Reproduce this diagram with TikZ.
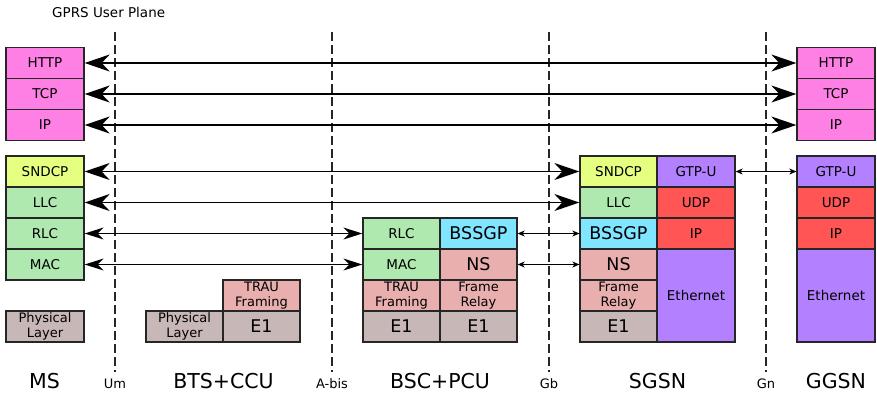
\documentclass[tikz,border=0pt]{standalone}
\usepackage{fontspec}
\setmainfont{DejaVu Sans}
\usetikzlibrary{arrows.meta}
\definecolor{cmag}{HTML}{FF80E5}
\definecolor{cyel}{HTML}{E5FF80}
\definecolor{cgrn}{HTML}{AFE9AF}
\definecolor{cgry}{HTML}{C8B7B7}
\definecolor{ctrau}{HTML}{E9AFAF}
\definecolor{ccyan}{HTML}{80E5FF}
\definecolor{cpur}{HTML}{B380FF}
\definecolor{cred}{HTML}{FF5555}
\tikzset{
  box/.style={draw=black!85, line width=1.3pt, minimum width=77pt, minimum height=31pt, inner sep=0pt, align=center, font=\fontsize{13.5}{15}\selectfont},
  wbox/.style={box, minimum width=78pt},
  bigtxt/.style={font=\fontsize{17.5}{19}\selectfont},
  twol/.style={font=\fontsize{13}{15}\selectfont},
  bigarrow/.style={line width=1.6pt, {Stealth[length=25pt,width=17pt,inset=8pt]}-{Stealth[length=25pt,width=17pt,inset=8pt]}},
  midarrow/.style={line width=1.3pt, {Stealth[length=19pt,width=12pt,inset=6pt]}-{Stealth[length=19pt,width=12pt,inset=6pt]}},
  smallarrow/.style={line width=0.9pt, {Stealth[length=7pt,width=6pt,inset=2pt]}-{Stealth[length=7pt,width=6pt,inset=2pt]}},
  dashline/.style={line width=1.6pt, black!85, dash pattern=on 9pt off 4pt},
  biglabel/.style={anchor=base, font=\fontsize{20.5}{22}\selectfont},
  smalllabel/.style={anchor=base, font=\fontsize{13}{15}\selectfont},
}
\begin{document}
\begin{tikzpicture}[x=1pt,y=-1pt]
\useasboundingbox (0,0) rectangle (877,392);
\fill[white] (0,0) rectangle (877,392);
% title
\node[anchor=base west, inner sep=0pt, font=\fontsize{13.5}{15}\selectfont] (title) at (52,17) {GPRS User Plane};
% dashed interface lines
\foreach \n/\x in {um/115, abis/332, gb/549, gn/766} {
  \coordinate (\n top) at (\x,32);
  \coordinate (\n bot) at (\x,372);
  \draw[dashline] (\n top) -- (\n bot);
}
% MS
\node[wbox, fill=cmag] (msHTTP) at (45,63) {HTTP};
\node[wbox, fill=cmag] (msTCP) at (45,94) {TCP};
\node[wbox, fill=cmag] (msIP) at (45,125) {IP};
\node[wbox, fill=cyel] (msSNDCP) at (45,171.5) {SNDCP};
\node[wbox, fill=cgrn] (msLLC) at (45,202.5) {LLC};
\node[wbox, fill=cgrn] (msRLC) at (45,233.5) {RLC};
\node[wbox, fill=cgrn] (msMAC) at (45,264.5) {MAC};
\node[wbox, fill=cgry, twol] (msPHY) at (45,326.5) {Physical\\Layer};
% BTS
\node[box, fill=cgry, twol] (btsPHY) at (184.5,326.5) {Physical\\Layer};
\node[box, fill=ctrau, twol] (btsTRAU) at (261.5,295.5) {TRAU\\Framing};
\node[box, fill=cgry, bigtxt] (btsE1) at (261.5,326.5) {E1};
% BSC
\node[box, fill=cgrn] (bscRLC) at (401.5,233.5) {RLC};
\node[box, fill=cgrn] (bscMAC) at (401.5,264.5) {MAC};
\node[box, fill=ctrau, twol] (bscTRAU) at (401.5,295.5) {TRAU\\Framing};
\node[box, fill=cgry, bigtxt] (bscE1a) at (401.5,326.5) {E1};
\node[box, fill=ccyan, bigtxt] (bscBSSGP) at (478.5,233.5) {BSSGP};
\node[box, fill=ctrau, bigtxt] (bscNS) at (478.5,264.5) {NS};
\node[box, fill=ctrau, twol] (bscFR) at (478.5,295.5) {Frame\\Relay};
\node[box, fill=cgry, bigtxt] (bscE1b) at (478.5,326.5) {E1};
% SGSN
\node[box, fill=cyel] (sgSNDCP) at (618.5,171.5) {SNDCP};
\node[box, fill=cgrn] (sgLLC) at (618.5,202.5) {LLC};
\node[box, fill=ccyan, bigtxt] (sgBSSGP) at (618.5,233.5) {BSSGP};
\node[box, fill=ctrau, bigtxt] (sgNS) at (618.5,264.5) {NS};
\node[box, fill=ctrau, twol] (sgFR) at (618.5,295.5) {Frame\\Relay};
\node[box, fill=cgry, bigtxt] (sgE1) at (618.5,326.5) {E1};
\node[wbox, fill=cpur] (sgGTP) at (696,171.5) {GTP-U};
\node[wbox, fill=cred] (sgUDP) at (696,202.5) {UDP};
\node[wbox, fill=cred] (sgIP) at (696,233.5) {IP};
\node[wbox, fill=cpur, minimum height=93pt] (sgETH) at (696,295.5) {Ethernet};
% GGSN
\node[wbox, fill=cmag] (ggHTTP) at (836,63) {HTTP};
\node[wbox, fill=cmag] (ggTCP) at (836,94) {TCP};
\node[wbox, fill=cmag] (ggIP) at (836,125) {IP};
\node[wbox, fill=cpur] (ggGTP) at (836,171.5) {GTP-U};
\node[wbox, fill=cred] (ggUDP) at (836,202.5) {UDP};
\node[wbox, fill=cred] (ggIPb) at (836,233.5) {IP};
\node[wbox, fill=cpur, minimum height=93pt] (ggETH) at (836,295.5) {Ethernet};
% arrows
\draw[bigarrow] (msHTTP.east) -- (ggHTTP.west);
\draw[bigarrow] (msTCP.east) -- (ggTCP.west);
\draw[bigarrow] (msIP.east) -- (ggIP.west);
\draw[bigarrow] (msSNDCP.east) -- (sgSNDCP.west);
\draw[bigarrow] (msLLC.east) -- (sgLLC.west);
\draw[midarrow] (msRLC.east) -- (bscRLC.west);
\draw[midarrow] (msMAC.east) -- (bscMAC.west);
\draw[smallarrow] (bscBSSGP.east) -- (sgBSSGP.west);
\draw[smallarrow] (bscNS.east) -- (sgNS.west);
\draw[smallarrow] (sgGTP.east) -- (ggGTP.west);
% bottom labels
\node[biglabel] (lMS) at (44.5,388) {MS};
\node[smalllabel] (lUm) at (115,388) {Um};
\node[biglabel] (lBTS) at (223.5,388) {BTS+CCU};
\node[smalllabel] (lAbis) at (332,388) {A-bis};
\node[biglabel] (lBSC) at (440,388) {BSC+PCU};
\node[smalllabel] (lGb) at (549,388) {Gb};
\node[biglabel] (lSGSN) at (657.5,388) {SGSN};
\node[smalllabel] (lGn) at (766,388) {Gn};
\node[biglabel] (lGGSN) at (836,388) {GGSN};
\end{tikzpicture}
\end{document}
